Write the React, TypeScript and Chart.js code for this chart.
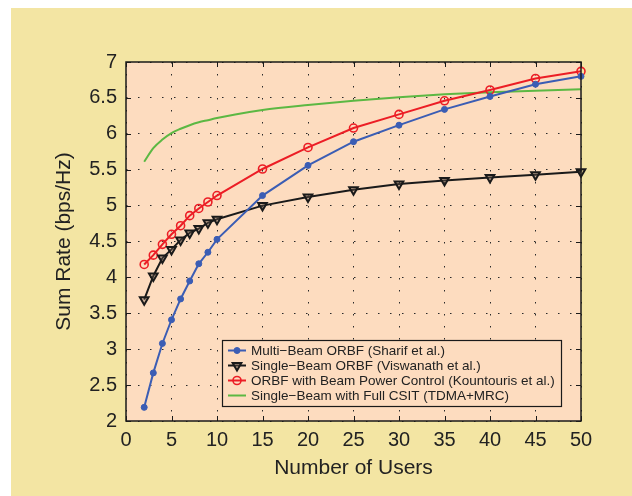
import React, { useEffect, useRef } from "react";
import { Chart, registerables } from "chart.js";

Chart.register(...registerables);

// ---- Data ----
const usersMarked = [2, 3, 4, 5, 6, 7, 8, 9, 10, 15, 20, 25, 30, 35, 40, 45, 50];
const multiBeamOrbf = [2.19, 2.67, 3.08, 3.41, 3.7, 3.95, 4.19, 4.35, 4.53, 5.14, 5.56, 5.89, 6.12, 6.34, 6.52, 6.69, 6.8];
const singleBeamOrbf = [3.69, 4.02, 4.27, 4.39, 4.52, 4.62, 4.68, 4.76, 4.81, 5.0, 5.12, 5.22, 5.3, 5.35, 5.39, 5.43, 5.47];
const orbfPowerControl = [4.18, 4.31, 4.46, 4.6, 4.72, 4.86, 4.96, 5.05, 5.14, 5.51, 5.81, 6.08, 6.27, 6.46, 6.61, 6.77, 6.87];
const usersCsit = [2, 3, 4, 5, 6, 7, 8, 9, 10, 12, 15, 20, 25, 30, 35, 40, 45, 50];
const fullCsit = [5.61, 5.8, 5.92, 6.01, 6.07, 6.12, 6.16, 6.19, 6.22, 6.27, 6.33, 6.4, 6.46, 6.51, 6.55, 6.58, 6.6, 6.62];

const seriesLabels = [
  "Multi\u2212Beam ORBF (Sharif et al.)",
  "Single\u2212Beam ORBF (Viswanath et al.)",
  "ORBF with Beam Power Control (Kountouris et al.)",
  "Single\u2212Beam with Full CSIT (TDMA+MRC)",
];
const xTickValues = [0, 5, 10, 15, 20, 25, 30, 35, 40, 45, 50];
const yTickValues = [2, 2.5, 3, 3.5, 4, 4.5, 5, 5.5, 6, 6.5, 7];
const xTitle = "Number of Users";
const yTitle = "Sum Rate (bps/Hz)";

// ---- Style ----
const OUTER_BG = "#f3e5a3";
const PLOT_BG = "#fddcbf";
const BLUE = "#3b5db4";
const BLACK = "#1a1a1a";
const RED = "#ec1d25";
const GREEN = "#5cb843";
const TEXT = "#222222";
const FONT = '"Liberation Sans", Arial, Helvetica, sans-serif';
const GRID_DASH = [1.5, 10.5];

const pts = (xs: number[], ys: number[]) => xs.map((x, i) => ({ x, y: ys[i] }));

function drawMarker(ctx: CanvasRenderingContext2D, ds: any, x: number, y: number) {
  const r = ds.pointRadius;
  if (!r) return;
  ctx.save();
  ctx.lineWidth = ds.pointBorderWidth ?? ds.borderWidth;
  ctx.strokeStyle = ds.borderColor;
  ctx.fillStyle = ds.pointBackgroundColor;
  ctx.beginPath();
  if (ds.pointStyle === "triangle") {
    const half = (r * Math.sqrt(3)) / 2;
    ctx.moveTo(x, y + r);
    ctx.lineTo(x - half, y - r / 2);
    ctx.lineTo(x + half, y - r / 2);
    ctx.closePath();
  } else {
    ctx.arc(x, y, r, 0, Math.PI * 2);
  }
  ctx.fill();
  ctx.stroke();
  ctx.restore();
}

const bgPlugin = {
  id: "plotBg",
  beforeDraw(chart: any) {
    const { ctx, chartArea: a } = chart;
    ctx.save();
    ctx.fillStyle = PLOT_BG;
    ctx.fillRect(a.left, a.top, a.right - a.left, a.bottom - a.top);
    ctx.restore();
  },
};

const boxPlugin = {
  id: "boxTicks",
  afterDatasetsDraw(chart: any) {
    const { ctx, chartArea: a } = chart;
    const xs = chart.scales.x;
    const ys = chart.scales.y;
    ctx.save();
    ctx.strokeStyle = BLACK;
    ctx.lineWidth = 1.5;
    ctx.strokeRect(a.left, a.top, a.right - a.left, a.bottom - a.top);
    ctx.lineWidth = 1;
    const tl = 5;
    ctx.beginPath();
    xs.ticks.forEach((t: any) => {
      const px = Math.round(xs.getPixelForValue(t.value)) + 0.5;
      ctx.moveTo(px, a.bottom);
      ctx.lineTo(px, a.bottom - tl);
      ctx.moveTo(px, a.top);
      ctx.lineTo(px, a.top + tl);
    });
    ys.ticks.forEach((t: any) => {
      const py = Math.round(ys.getPixelForValue(t.value)) + 0.5;
      ctx.moveTo(a.left, py);
      ctx.lineTo(a.left + tl, py);
      ctx.moveTo(a.right, py);
      ctx.lineTo(a.right - tl, py);
    });
    ctx.stroke();
    ctx.restore();
  },
};

const legendPlugin = {
  id: "insideLegend",
  afterDraw(chart: any) {
    const { ctx, chartArea: a } = chart;
    const items = chart.data.datasets;
    ctx.save();
    ctx.font = `13.5px ${FONT}`;
    const textW = Math.max(...items.map((d: any) => ctx.measureText(d.label).width));
    const w = Math.round(29 + textW + 6);
    const h = 66;
    const right = a.right - 20;
    const bottom = a.bottom - 15;
    const left = right - w;
    const top = bottom - h;
    ctx.fillStyle = PLOT_BG;
    ctx.fillRect(left, top, w, h);
    ctx.strokeStyle = BLACK;
    ctx.lineWidth = 1.2;
    ctx.strokeRect(left + 0.5, top + 0.5, w, h);
    items.forEach((d: any, i: number) => {
      const y = top + 10.5 + i * 15;
      ctx.strokeStyle = d.borderColor;
      ctx.lineWidth = d.borderWidth;
      ctx.beginPath();
      ctx.moveTo(left + 6, y);
      ctx.lineTo(left + 24, y);
      ctx.stroke();
      drawMarker(ctx, d, left + 15, y);
      ctx.fillStyle = TEXT;
      ctx.textBaseline = "middle";
      ctx.textAlign = "left";
      ctx.fillText(d.label, left + 29, y + 0.5);
    });
    ctx.restore();
  },
};

export default function App() {
  const canvasRef = useRef<HTMLCanvasElement | null>(null);

  useEffect(() => {
    if (!canvasRef.current) return;
    const chart = new Chart(canvasRef.current, {
      type: "line",
      data: {
        datasets: [
          {
            label: seriesLabels[0],
            data: pts(usersMarked, multiBeamOrbf),
            borderColor: BLUE,
            backgroundColor: BLUE,
            pointBackgroundColor: BLUE,
            borderWidth: 2,
            pointStyle: "circle",
            pointRadius: 3,
            pointBorderWidth: 1,
            clip: false,
          },
          {
            label: seriesLabels[1],
            data: pts(usersMarked, singleBeamOrbf),
            borderColor: BLACK,
            backgroundColor: BLACK,
            pointBackgroundColor: "rgba(120,100,90,0.35)",
            borderWidth: 2,
            pointStyle: "triangle",
            rotation: 180,
            pointRadius: 5,
            pointBorderWidth: 2,
            clip: false,
          },
          {
            label: seriesLabels[2],
            data: pts(usersMarked, orbfPowerControl),
            borderColor: RED,
            backgroundColor: RED,
            pointBackgroundColor: "rgba(0,0,0,0)",
            borderWidth: 2,
            pointStyle: "circle",
            pointRadius: 4,
            pointBorderWidth: 1.6,
            clip: false,
          },
          {
            label: seriesLabels[3],
            data: pts(usersCsit, fullCsit),
            borderColor: GREEN,
            backgroundColor: GREEN,
            pointBackgroundColor: GREEN,
            borderWidth: 2,
            pointRadius: 0,
            cubicInterpolationMode: "monotone",
            clip: false,
          },
        ] as any,
      },
      options: {
        animation: false,
        responsive: false,
        events: [],
        layout: { padding: { left: 41, top: 54, right: 51, bottom: 15 } },
        plugins: {
          legend: { display: false },
          tooltip: { enabled: false },
        },
        scales: {
          x: {
            type: "linear",
            min: 0,
            max: 50,
            afterBuildTicks: (s: any) => {
              s.ticks = xTickValues.map((v) => ({ value: v }));
            },
            afterFit: (s: any) => {
              s.height = 60;
            },
            border: { display: false, dash: GRID_DASH },
            grid: { color: "#2a2a2a", lineWidth: 1, drawTicks: false },
            ticks: {
              color: TEXT,
              font: { family: FONT, size: 20 },
              padding: 7,
              maxRotation: 0,
              autoSkip: false,
            },
            title: {
              display: true,
              text: xTitle,
              color: TEXT,
              font: { family: FONT, size: 21, lineHeight: 1.2 },
              padding: 0,
            },
          },
          y: {
            type: "linear",
            min: 2,
            max: 7,
            afterBuildTicks: (s: any) => {
              s.ticks = yTickValues.map((v) => ({ value: v }));
            },
            afterFit: (s: any) => {
              s.width = 74;
            },
            border: { display: false, dash: GRID_DASH },
            grid: { color: "#2a2a2a", lineWidth: 1, drawTicks: false },
            ticks: {
              color: TEXT,
              font: { family: FONT, size: 20 },
              padding: 9,
              autoSkip: false,
              callback: (v: any) => String(v),
            },
            title: {
              display: true,
              text: yTitle,
              color: TEXT,
              font: { family: FONT, size: 21, lineHeight: 1.2 },
              padding: 0,
            },
          },
        },
      } as any,
      plugins: [bgPlugin, boxPlugin, legendPlugin],
    });
    return () => chart.destroy();
  }, []);

  return (
    <div
      style={{
        position: "fixed",
        left: 11,
        top: 8,
        width: 621,
        height: 488,
        background: OUTER_BG,
      }}
    >
      <canvas ref={canvasRef} width={621} height={488} style={{ display: "block" }} />
    </div>
  );
}
